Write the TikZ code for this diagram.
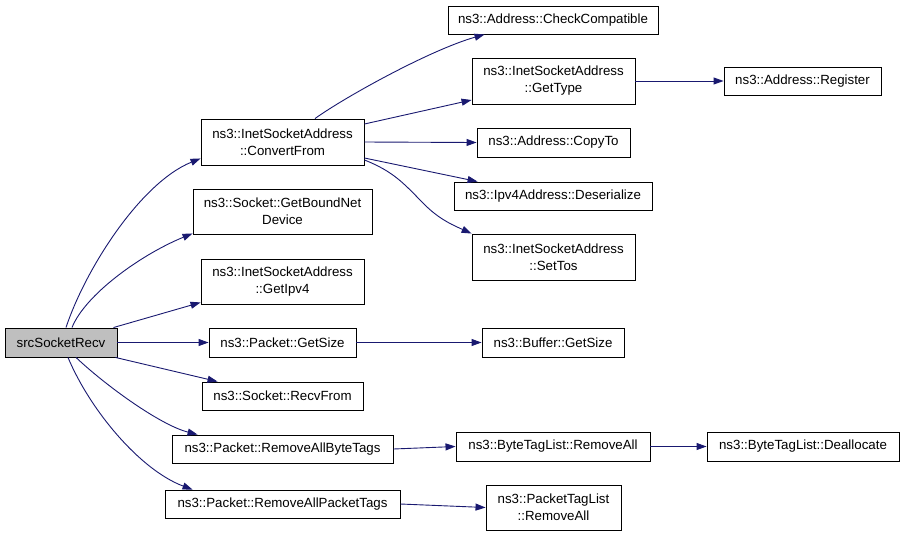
\documentclass[tikz,border=0pt]{standalone}
\usepackage{fontspec}
\setmainfont{Liberation Sans}
\usetikzlibrary{arrows.meta,calc}
\definecolor{edgecol}{HTML}{191970}
\definecolor{srcfill}{HTML}{BFBFBF}
\tikzset{
  fn/.style={draw=black, line width=0.9pt, fill=white, inner sep=0pt, align=center,
    font=\fontsize{13.3}{17}\selectfont},
  call/.style={draw=edgecol, line width=0.9pt, -{Triangle[length=10pt,width=7pt]}, edgecol},
}
\begin{document}
\begin{tikzpicture}[x=1pt,y=-1pt]
\useasboundingbox (0,0) rectangle (904,536);
% nodes
\node[fn, fill=srcfill, minimum width=112, minimum height=29] (src) at (61,342.5) {srcSocketRecv};
\node[fn, minimum width=163, minimum height=46] (convfrom) at (282.5,142) {ns3::InetSocketAddress\\::ConvertFrom};
\node[fn, minimum width=179, minimum height=45] (boundnet) at (282.5,211.5) {ns3::Socket::GetBoundNet\\Device};
\node[fn, minimum width=163, minimum height=45] (getipv4) at (282.5,281.5) {ns3::InetSocketAddress\\::GetIpv4};
\node[fn, minimum width=147, minimum height=29] (pgetsize) at (282.5,342.5) {ns3::Packet::GetSize};
\node[fn, minimum width=161, minimum height=28] (recvfrom) at (282.5,396) {ns3::Socket::RecvFrom};
\node[fn, minimum width=221, minimum height=28] (rmbyte) at (282.5,449) {ns3::Packet::RemoveAllByteTags};
\node[fn, minimum width=235, minimum height=28] (rmpacket) at (282.5,504) {ns3::Packet::RemoveAllPacketTags};
\node[fn, minimum width=210, minimum height=28] (checkcomp) at (553,20) {ns3::Address::CheckCompatible};
\node[fn, minimum width=163, minimum height=46] (gettype) at (553.5,81) {ns3::InetSocketAddress\\::GetType};
\node[fn, minimum width=157, minimum height=28] (register) at (802.5,81) {ns3::Address::Register};
\node[fn, minimum width=153, minimum height=29] (copyto) at (553.5,142.5) {ns3::Address::CopyTo};
\node[fn, minimum width=198, minimum height=28] (deser) at (553,196) {ns3::Ipv4Address::Deserialize};
\node[fn, minimum width=163, minimum height=46] (settos) at (553.5,257) {ns3::InetSocketAddress\\::SetTos};
\node[fn, minimum width=142, minimum height=29] (bgetsize) at (553,342.5) {ns3::Buffer::GetSize};
\node[fn, minimum width=194, minimum height=29] (btlremove) at (553,446.5) {ns3::ByteTagList::RemoveAll};
\node[fn, minimum width=192, minimum height=29] (dealloc) at (803,446.5) {ns3::ByteTagList::Deallocate};
\node[fn, minimum width=135, minimum height=45] (ptlremove) at (553.5,507.5) {ns3::PacketTagList\\::RemoveAll};
% edges from srcSocketRecv
\draw[call] ($(src.north)+(5,0)$) .. controls (85,270) and (140,183) .. ($(convfrom.south west)+(0,-7)$);
\draw[call] ($(src.north)+(11,0)$) .. controls (85,295) and (140,255) .. ($(boundnet.south west)+(0,-1)$);
\draw[call] ($(src.north east)+(-4,0)$) -- ($(getipv4.south west)+(0,-2)$);
\draw[call] (src.east) -- (pgetsize.west);
\draw[call] ($(src.south east)+(-2,0)$) -- ($(recvfrom.north west)+(16,0)$);
\draw[call] ($(src.south)+(15,0)$) .. controls (105,385) and (160,425) .. ($(rmbyte.north west)+(26,0)$);
\draw[call] ($(src.south)+(7,0)$) .. controls (90,410) and (140,470) .. ($(rmpacket.north west)+(28,0)$);
% edges from ConvertFrom
\draw[call] ($(convfrom.north)+(32.5,0)$) .. controls (345,97) and (430,50) .. ($(checkcomp.south west)+(37,0)$);
\draw[call] ($(convfrom.east)+(0,-18)$) -- ($(gettype.west)+(0,19)$);
\draw[call] (convfrom.east) -- (copyto.west);
\draw[call] ($(convfrom.east)+(0,16)$) -- ($(deser.north west)+(24,0)$);
\draw[call] ($(convfrom.east)+(0,18)$) .. controls (395,172) and (405,185) .. (425,205)
  .. controls (440,220) and (455,226) .. (settos.north west);
% other edges
\draw[call] (gettype.east) -- (register.west);
\draw[call] (pgetsize.east) -- (bgetsize.west);
\draw[call] (rmbyte.east) -- (btlremove.west);
\draw[call] (btlremove.east) -- (dealloc.west);
\draw[call] (rmpacket.east) -- (ptlremove.west);
\end{tikzpicture}
\end{document}
